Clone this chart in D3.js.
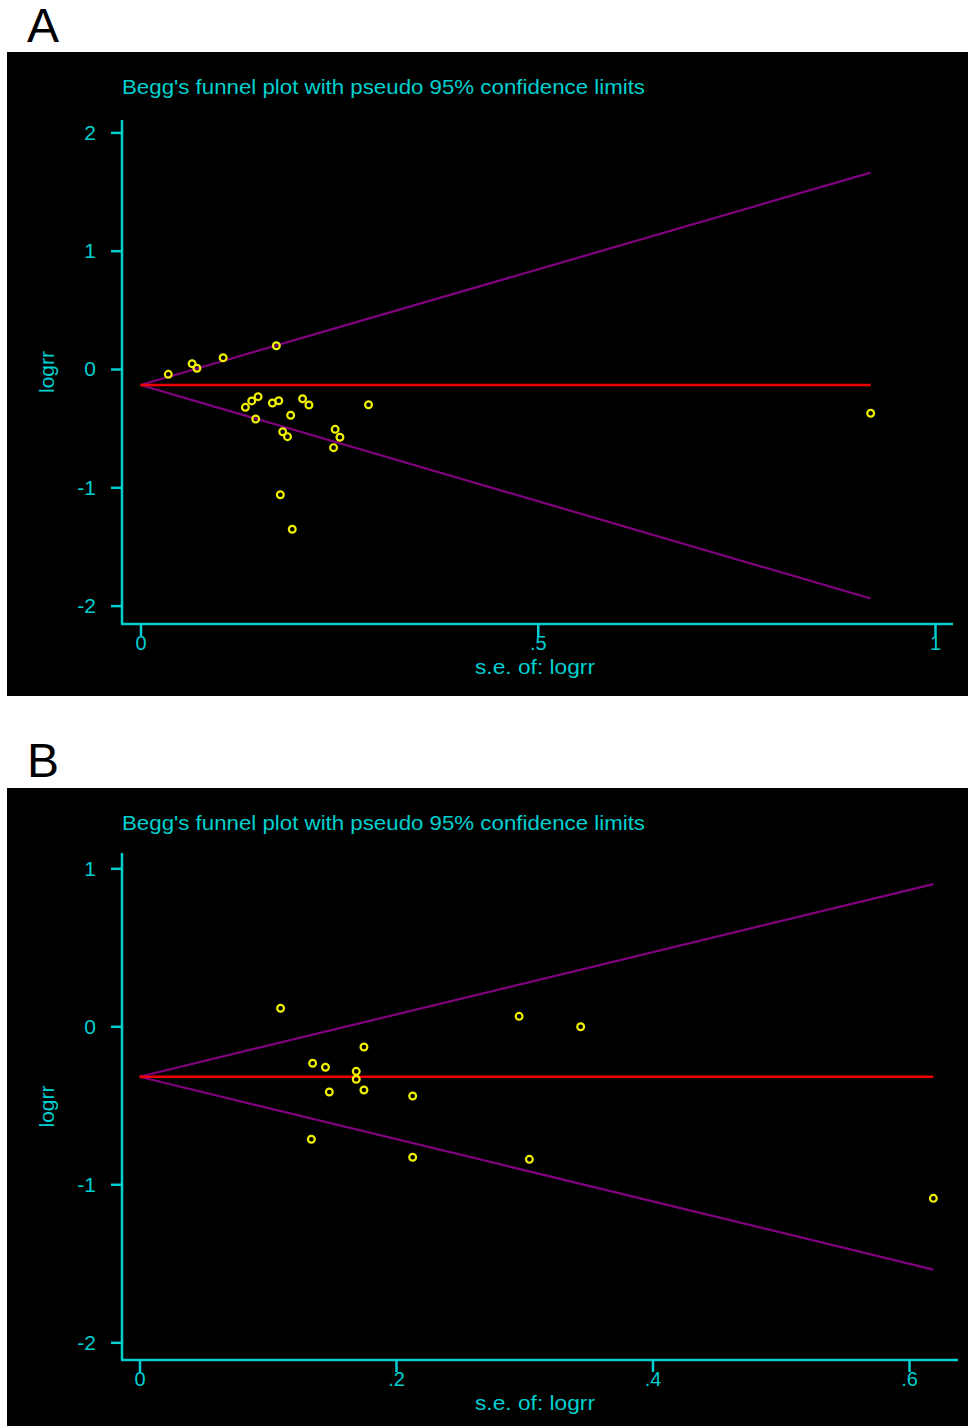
<!DOCTYPE html>
<html>
<head>
<meta charset="utf-8">
<script src="https://cdn.jsdelivr.net/npm/d3@7"></script>
<style>
  body { margin: 0; background: #fff; }
  svg { display: block; }
</style>
</head>
<body>
<div id="chart"></div>
<script>
// Panel A: studies (s.e. of logrr, logrr)
const seA = [0.035, 0.065, 0.071, 0.104, 0.171, 0.132, 0.140, 0.148, 0.145, 0.166, 0.174,
  0.204, 0.212, 0.189, 0.179, 0.185, 0.245, 0.251, 0.243, 0.287, 0.176, 0.191, 0.919];
const logrrA = [-0.045, 0.045, 0.006, 0.095, 0.197, -0.324, -0.270, -0.234, -0.423, -0.287, -0.268,
  -0.251, -0.304, -0.391, -0.530, -0.572, -0.510, -0.577, -0.665, -0.302, -1.063, -1.355, -0.374];
const pooledA = -0.135;
const limitSeA = [0, 0.919];
const upperA = [-0.135, 1.66];
const lowerA = [-0.135, -1.94];
const xTicksA = [0, 0.5, 1];
const yTicksA = [2, 1, 0, -1, -2];

// Panel B
const seB = [0.110, 0.296, 0.344, 0.175, 0.135, 0.145, 0.169, 0.169, 0.148, 0.175, 0.213,
  0.134, 0.213, 0.304, 0.619];
const logrrB = [0.114, 0.063, -0.003, -0.131, -0.234, -0.259, -0.285, -0.335, -0.416, -0.403, -0.441,
  -0.715, -0.829, -0.842, -1.089];
const pooledB = -0.319;
const limitSeB = [0, 0.619];
const upperB = [-0.319, 0.90];
const lowerB = [-0.319, -1.54];
const xTicksB = [0, 0.2, 0.4, 0.6];
const yTicksB = [1, 0, -1, -2];

const titleText = "Begg's funnel plot with pseudo 95% confidence limits";
const xTitle = "s.e. of: logrr";
const yTitle = "logrr";

const CYAN = '#00d0d0', RED = '#ee0000', PURPLE = '#800080', YELLOW = '#f0f000';
const FONT = '"Liberation Sans", Arial, sans-serif';

const width = 968, height = 1426;

const svg = d3.select('#chart')
  .append('svg')
  .attr('width', width)
  .attr('height', height);

// Stata style number labels: .5 instead of 0.5
const fmt = d => d === 0 ? '0' : String(d).replace(/^(-?)0\./, '$1.');

function drawPanel(p) {
  const g = svg.append('g');

  // black plot background
  g.append('rect')
    .attr('x', p.box[0]).attr('y', p.box[1])
    .attr('width', p.box[2]).attr('height', p.box[3])
    .attr('fill', '#000');

  // panel letter
  svg.append('text')
    .attr('x', 27)
    .attr('y', p.letterY)
    .attr('font-family', FONT)
    .attr('font-size', '48px')
    .attr('fill', '#000')
    .text(p.letter);

  const x = d3.scaleLinear().domain(p.xDomain).range(p.xRange);
  const y = d3.scaleLinear().domain(p.yDomain).range(p.yRange);

  // title
  g.append('text')
    .attr('x', 122)
    .attr('y', p.box[1] + 42)
    .attr('font-family', FONT)
    .attr('font-size', '21px')
    .attr('fill', CYAN)
    .attr('textLength', 523)
    .attr('lengthAdjust', 'spacingAndGlyphs')
    .text(titleText);

  // axis lines (longer than the tick range, like Stata)
  g.append('line')
    .attr('x1', p.axisX).attr('x2', p.axisX)
    .attr('y1', p.yAxisTop).attr('y2', p.axisY)
    .attr('stroke', CYAN).attr('stroke-width', 2.5);
  g.append('line')
    .attr('x1', p.axisX - 1).attr('x2', p.xAxisRight)
    .attr('y1', p.axisY).attr('y2', p.axisY)
    .attr('stroke', CYAN).attr('stroke-width', 2.5);

  // Y axis
  const yAxis = g.append('g')
    .attr('transform', `translate(${p.axisX}, 0)`)
    .call(d3.axisLeft(y).tickValues(p.yTicks).tickFormat(fmt).tickSize(11).tickPadding(15));

  // X axis
  const xAxis = g.append('g')
    .attr('transform', `translate(0, ${p.axisY})`)
    .call(d3.axisBottom(x).tickValues(p.xTicks).tickFormat(fmt).tickSize(12).tickPadding(0));

  [yAxis, xAxis].forEach(a => {
    a.select('.domain').remove();
    a.selectAll('line').attr('stroke', CYAN).attr('stroke-width', 2.5);
    a.selectAll('text')
      .attr('fill', CYAN)
      .attr('font-family', FONT)
      .attr('font-size', '21px');
  });
  xAxis.selectAll('text').attr('font-size', '20px');

  // axis titles
  g.append('text')
    .attr('x', 535)
    .attr('y', p.axisY + 50)
    .attr('text-anchor', 'middle')
    .attr('font-family', FONT)
    .attr('font-size', '20px')
    .attr('fill', CYAN)
    .attr('textLength', 120)
    .attr('lengthAdjust', 'spacingAndGlyphs')
    .text(xTitle);

  g.append('text')
    .attr('transform', 'rotate(-90)')
    .attr('x', -(p.yAxisTop + p.axisY) / 2)
    .attr('y', 54)
    .attr('text-anchor', 'middle')
    .attr('font-family', FONT)
    .attr('font-size', '21px')
    .attr('fill', CYAN)
    .text(yTitle);

  // pseudo 95% limits
  const line = d3.line().x(d => x(d[0])).y(d => y(d[1]));
  [p.upper, p.lower].forEach(lim => {
    g.append('path')
      .datum(p.limitSe.map((s, i) => [s, lim[i]]))
      .attr('d', line)
      .attr('fill', 'none')
      .attr('stroke', PURPLE)
      .attr('stroke-width', 2.2);
  });

  // pooled estimate
  g.append('path')
    .datum(p.limitSe.map(s => [s, p.pooled]))
    .attr('d', line)
    .attr('fill', 'none')
    .attr('stroke', RED)
    .attr('stroke-width', 2.4);

  // study points
  g.append('g')
    .selectAll('circle')
    .data(p.se.map((s, i) => ({ se: s, v: p.logrr[i] })))
    .join('circle')
    .attr('cx', d => x(d.se))
    .attr('cy', d => y(d.v))
    .attr('r', 3.4)
    .attr('fill', 'none')
    .attr('stroke', YELLOW)
    .attr('stroke-width', 2.2);
}

drawPanel({
  letter: 'A', letterY: 42,
  box: [7, 52, 961, 644],
  xDomain: [0, 1], xRange: [140.5, 935],
  yDomain: [-2, 2], yRange: [605.6, 132.4],
  axisX: 122, axisY: 624, yAxisTop: 120, xAxisRight: 953,
  xTicks: xTicksA, yTicks: yTicksA,
  se: seA, logrr: logrrA, pooled: pooledA,
  limitSe: limitSeA, upper: upperA, lower: lowerA
});

drawPanel({
  letter: 'B', letterY: 777,
  box: [7, 788, 961, 638],
  xDomain: [0, 0.6], xRange: [139.5, 909],
  yDomain: [-2, 1], yRange: [1342.3, 868.3],
  axisX: 122, axisY: 1360, yAxisTop: 853, xAxisRight: 958,
  xTicks: xTicksB, yTicks: yTicksB,
  se: seB, logrr: logrrB, pooled: pooledB,
  limitSe: limitSeB, upper: upperB, lower: lowerB
});
</script>
</body>
</html>
